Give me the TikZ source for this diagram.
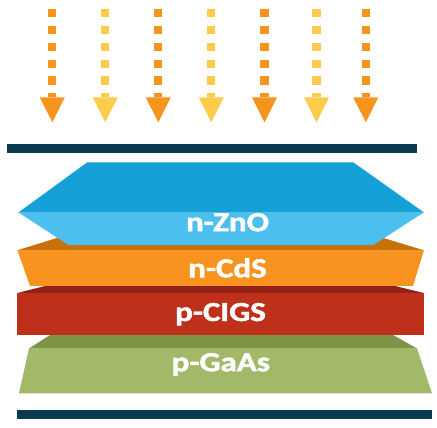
\documentclass[tikz,border=0pt]{standalone}
\usepackage{fontspec}
\setmainfont{Carlito}
\newfontfamily\lblfont[FakeBold=1.6]{Carlito Bold}
\definecolor{ora}{HTML}{F7941D}
\definecolor{yel}{HTML}{FFCB4C}
\definecolor{navy}{HTML}{0B3A53}
\definecolor{znoT}{HTML}{16A0D8}
\definecolor{znoF}{HTML}{4BBFED}
\definecolor{cdsT}{HTML}{C87108}
\definecolor{cdsF}{HTML}{F7931E}
\definecolor{cigT}{HTML}{922216}
\definecolor{cigF}{HTML}{BE3019}
\definecolor{gasT}{HTML}{7D9445}
\definecolor{gasF}{HTML}{A2B969}
\tikzset{
  lbl/.style={font=\lblfont\fontsize{27.5}{30}\selectfont, text=white, inner sep=0pt, anchor=base, xscale=1.2},
  bar/.style={fill=navy, draw=none},
  dots/.style={line width=8.3pt, dash pattern=on 8.3pt off 8.5pt},
}
\begin{document}
\begin{tikzpicture}[x=1pt,y=-1pt]
\useasboundingbox (0,0) rectangle (437,428);
% light arrows
\foreach \x/\c [count=\i] in {52.3/ora,105.3/yel,158.3/ora,211.3/yel,264.5/ora,316.5/yel,365.8/ora}{
  \coordinate (a\i top) at (\x,9.2);
  \coordinate (a\i mid) at (\x,97.4);
  \coordinate (a\i tip) at (\x,122.3);
  \draw[\c, dots] (a\i top) -- (a\i mid);
  \fill[\c] ([xshift=-12.5pt]a\i mid) -- ([xshift=12.5pt]a\i mid) -- (a\i tip) -- cycle;
}
% top electrode
\fill[bar] (6.7,144.3) rectangle (416.7,153.3);
% p-GaAs
\fill[gasT] (29,348.5) -- (50,335) -- (393,335) -- (417,348.5) -- cycle;
\fill[gasF] (29,348.3) -- (417,348.3) -- (432,393.3) -- (19,393.3) -- cycle;
% p-CIGS
\fill[cigT] (17.3,293) -- (45,286) -- (395,286) -- (424,293) -- cycle;
\fill[cigF] (17.3,292.7) rectangle (424,334.5);
% n-CdS
\fill[cdsT] (17.3,250.3) -- (60,237) -- (380,237) -- (424,250.3) -- cycle;
\fill[cdsF] (17.3,250) -- (424,250) -- (413,285.8) -- (30,285.8) -- cycle;
% n-ZnO
\fill[znoT] (87.3,162.3) -- (353.3,162.3) -- (424,212.5) -- (18.3,212.5) -- cycle;
\fill[znoF] (18.3,212.3) -- (424,212.3) -- (373.3,245) -- (68.3,245) -- cycle;
% bottom electrode
\fill[bar] (17.3,410) rectangle (432.3,418.7);
% labels
\node[lbl] (zno)  at (227.5,231.2) {n-ZnO};
\node[lbl] (cds)  at (227.5,277.3) {n-CdS};
\node[lbl] (cigs) at (220.5,321.0) {p-CIGS};
\node[lbl] (gaas) at (220.8,371.2) {p-GaAs};
\end{tikzpicture}
\end{document}
